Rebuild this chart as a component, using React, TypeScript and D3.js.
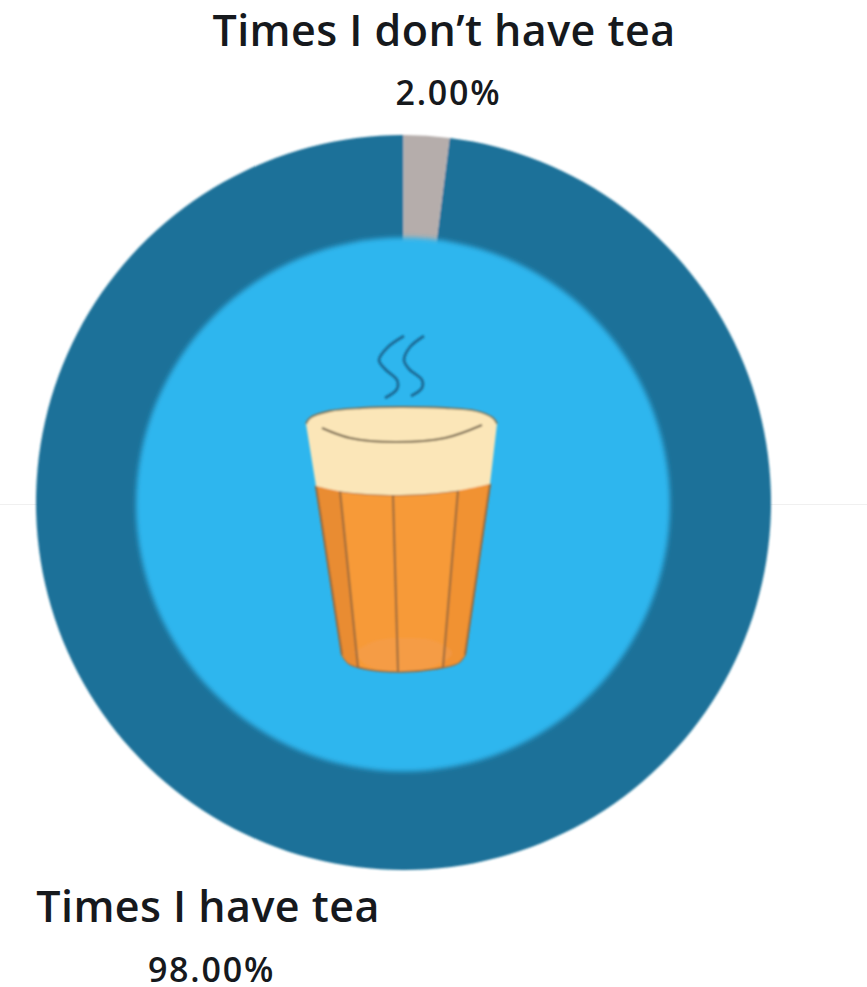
import React from "react";
import * as d3 from "d3";

const categories = ["Times I have tea", "Times I don’t have tea"];
const shares = [98, 2];
const shareLabels = ["98.00%", "2.00%"];
const sliceColors = ["#1a7199", "#b5adab"];

type P = [number, number];
const curve = d3.line<P>().curve(d3.curveCatmullRom.alpha(0.5));
// Joins curved runs into one outline; the gaps between runs become straight edges.
const outline = (...runs: P[][]) =>
  runs.map((r, i) => (i === 0 ? curve(r) : "L" + curve(r)!.slice(1))).join("") + "Z";

const rimTop: P[] = [[306, 424], [310, 418], [330, 411], [362, 408], [400, 407], [445, 408], [476, 411], [493, 418], [497, 424]];
const rimBottom: P[] = [[490, 484], [455, 491], [400, 495], [345, 492], [316, 486]];
const teaTop: P[] = [[316, 486], [345, 492], [400, 495], [455, 491], [490, 484]];
const teaBottom: P[] = [[465, 655], [458, 663], [435, 669], [400, 672], [365, 669], [348, 663], [342, 655]];
const leftPanelTop: P[] = [[316, 486], [340, 491]];
const leftPanelBottom: P[] = [[358, 667], [348, 663], [342, 655]];
const rightPanelTop: P[] = [[458, 490], [490, 484]];
const rightPanelBottom: P[] = [[465, 655], [458, 663], [443, 667]];
const ribLines: P[][] = [
  [[340, 491], [358, 667]],
  [[393, 495], [398, 671]],
  [[458, 490], [443, 667]],
];
const sideEdges: P[][] = [
  [[316, 486], [342, 655]],
  [[490, 484], [465, 655]],
];
const foamLine: P[] = [[322, 428], [350, 438], [395, 442], [445, 438], [482, 425]];
const steamA: P[] = [[404, 336], [388, 347], [379, 360], [385, 369], [397, 380], [397, 389], [385, 398]];
const steamB: P[] = [[424, 336], [410, 347], [404, 360], [409, 369], [422, 380], [422, 388], [411, 396]];
const bottomGlow: P[] = [[354, 652], [375, 641], [405, 638], [435, 641], [452, 653], [435, 666], [400, 671], [368, 666], [354, 652]];

const cx = 403.5;
const cy = 502.5;
const outerR = 367.5;
const holeCx = 403;
const holeCy = 504.5;
const holeR = 267;
const font = "'Open Sans', 'Noto Sans', sans-serif";

export default function App() {
  const pie = d3.pie<number>().sort(null).startAngle(2 * Math.PI * 0.02).endAngle(2 * Math.PI * 1.02);
  const arcs = pie(shares);
  const arc = d3.arc<d3.PieArcDatum<number>>().innerRadius(0).outerRadius(outerR);
  return (
    <svg
      width={867}
      height={987}
      style={{ position: "absolute", left: 0, top: 0, background: "#ffffff" }}
      fontFamily={font}
    >
      <defs>
        <filter id="soft" x="-5%" y="-5%" width="110%" height="110%">
          <feGaussianBlur stdDeviation="2.4" />
        </filter>
        <filter id="img" x="-5%" y="-5%" width="110%" height="110%">
          <feGaussianBlur stdDeviation="0.8" />
        </filter>
      </defs>
      <line x1={0} x2={867} y1={504.5} y2={504.5} stroke="#f0f0f0" strokeWidth={1} />
      <g transform={`translate(${cx},${cy})`} filter="url(#img)">
        {arcs.map((a, i) => (
          <path key={categories[i]} d={arc(a) ?? ""} fill={sliceColors[i]} />
        ))}
      </g>
      <circle cx={holeCx} cy={holeCy} r={holeR} fill="#2fb6ee" filter="url(#soft)" />
      <g filter="url(#img)">
        <path d={outline(teaTop, teaBottom)} fill="#f79a38" stroke="#96683c" strokeWidth={1.6} />
        <path d={outline(leftPanelTop, leftPanelBottom)} fill="#e98c30" />
        <path d={outline(rightPanelTop, rightPanelBottom)} fill="#f19233" />
        <path d={curve(bottomGlow) ?? ""} fill="#f2a05a" opacity={0.4} />
        {[...ribLines, ...sideEdges].map((r, i) => (
          <path key={i} d={curve(r) ?? ""} fill="none" stroke="#96683c" strokeWidth={2} />
        ))}
        <path d={outline(rimTop, rimBottom)} fill="#fbe6b8" />
        <path d={curve(rimTop) ?? ""} fill="none" stroke="#7f7358" strokeWidth={1.8} />
        <path d={curve(foamLine) ?? ""} fill="none" stroke="#6f6048" strokeWidth={2} />
        <path d={curve(steamA) ?? ""} fill="none" stroke="#1a6a95" strokeWidth={2.8} />
        <path d={curve(steamB) ?? ""} fill="none" stroke="#1a6a95" strokeWidth={2.8} />
      </g>
      <g textAnchor="middle" fill="#16191d">
        <text x={444} y={46} fontSize={43} fontWeight={600} letterSpacing={0.45}>{categories[1]}</text>
        <text x={448.5} y={105} fontSize={34} fontWeight={600} letterSpacing={1.8}>{shareLabels[1]}</text>
        <text x={208} y={922} fontSize={43} fontWeight={600} letterSpacing={0.45}>{categories[0]}</text>
        <text x={211.5} y={982} fontSize={34} fontWeight={600} letterSpacing={1.8}>{shareLabels[0]}</text>
      </g>
    </svg>
  );
}
